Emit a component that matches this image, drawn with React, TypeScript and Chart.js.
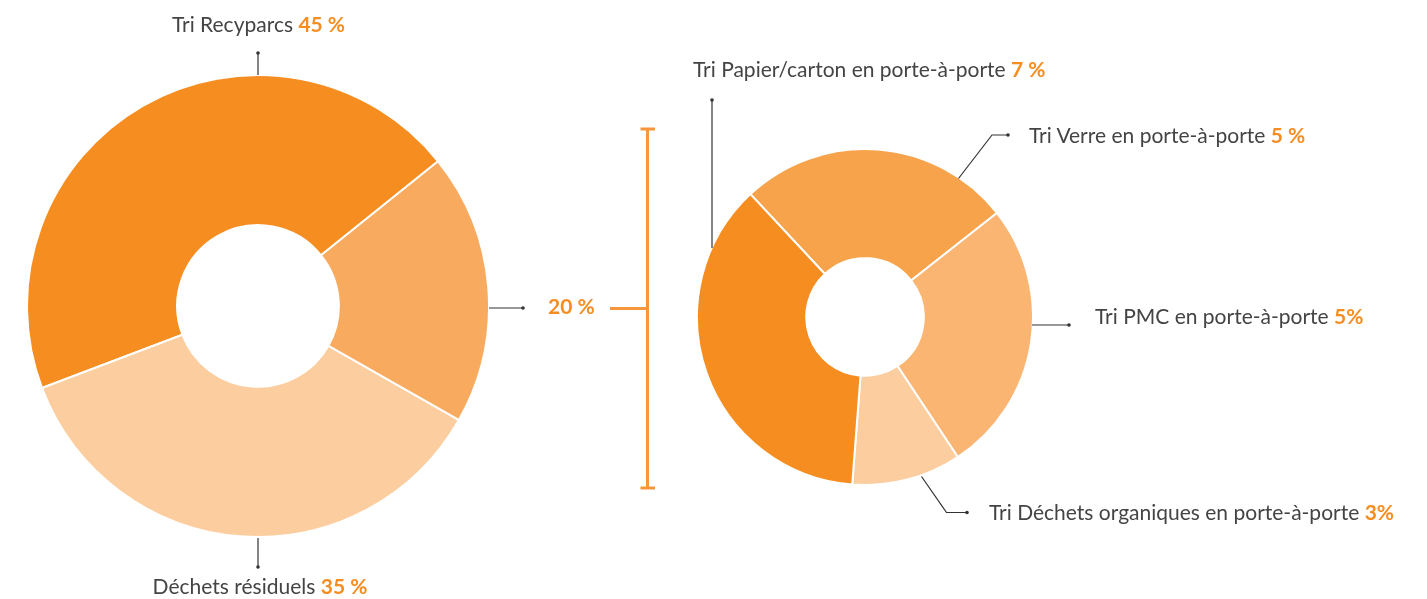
import React, { useEffect, useRef } from "react";
import { Chart, registerables } from "chart.js";

Chart.register(...registerables);

// Left doughnut (share of household waste)
const leftCategories = ["Tri Recyparcs", "Tri en porte-à-porte", "Déchets résiduels"];
const leftValues = [45, 19, 36];
const leftColors = ["#F68D21", "#F8AA5F", "#FCCD9E"];

// Right doughnut (breakdown of door-to-door sorting)
const rightCategories = [
  "Tri Verre en porte-à-porte",
  "Tri PMC en porte-à-porte",
  "Tri Déchets organiques en porte-à-porte",
  "Tri Papier/carton en porte-à-porte",
];
const rightValues = [5, 5, 2, 7];
const rightColors = ["#F7A34B", "#FAB573", "#FCCD9E", "#F68D21"];

// Label texts
const labelRecyparcs = ["Tri Recyparcs ", "45 %"];
const labelResiduels = ["Déchets résiduels ", "35 %"];
const labelPorte = "20 %";
const labelPapier = ["Tri Papier/carton en porte-à-porte ", "7 %"];
const labelVerre = ["Tri Verre en porte-à-porte ", "5 %"];
const labelPMC = ["Tri PMC en porte-à-porte ", "5%"];
const labelOrga = ["Tri Déchets organiques en porte-à-porte ", "3%"];

const FONT = "Lato, 'Open Sans', sans-serif";
const FS = 21;
const TEXT = "#444444";
const ORANGE = "#F68D21";
const LINE = "#333333";

function Donut({ values, colors, labels, rotation, left, top, size }: any) {
  const ref = useRef<HTMLCanvasElement>(null);
  useEffect(() => {
    const chart = new Chart(ref.current!, {
      type: "doughnut",
      data: {
        labels,
        datasets: [
          {
            data: values,
            backgroundColor: colors,
            borderColor: "#ffffff",
            borderWidth: 2,
          },
        ],
      },
      options: {
        animation: false,
        responsive: false,
        maintainAspectRatio: false,
        rotation,
        cutout: "35%",
        layout: { padding: 0 },
        plugins: { legend: { display: false }, tooltip: { enabled: false } },
      },
    });
    return () => chart.destroy();
  }, []);
  return (
    <canvas
      ref={ref}
      width={size}
      height={size}
      style={{ position: "absolute", left, top, width: size, height: size }}
    />
  );
}

function Label({ x, y, parts, anchor = "start" }: any) {
  return (
    <text x={x} y={y} textAnchor={anchor} fontFamily={FONT} fontSize={FS} fill={TEXT}>
      {parts[0]}
      <tspan fill={ORANGE} fontWeight={700}>
        {parts[1]}
      </tspan>
    </text>
  );
}

function Dot({ x, y }: any) {
  return <circle cx={x} cy={y} r={1.8} fill={LINE} />;
}

export default function App() {
  return (
    <div style={{ position: "absolute", left: 0, top: 0, width: 1427, height: 599, background: "#fff" }}>
      <Donut
        values={leftValues}
        colors={leftColors}
        labels={leftCategories}
        rotation={-110.8}
        left={26}
        top={74}
        size={464}
      />
      <Donut
        values={rightValues}
        colors={rightColors}
        labels={rightCategories}
        rotation={-43}
        left={696}
        top={148}
        size={338}
      />
      <svg
        width={1427}
        height={599}
        style={{ position: "absolute", left: 0, top: 0, pointerEvents: "none" }}
      >
        <g stroke={LINE} strokeWidth={1.2} fill="none">
          <line x1={258} y1={53} x2={258} y2={75} />
          <line x1={258} y1={538} x2={258} y2={567} />
          <line x1={489} y1={308} x2={523} y2={308} />
          <line x1={712} y1={100} x2={712} y2={248} />
          <polyline points="1008,135 992,135 958.5,178.5" />
          <line x1={1032} y1={325} x2={1069} y2={325} />
          <polyline points="921.5,476.5 946.5,512.5 967,512.5" />
        </g>
        <Dot x={258} y={53} />
        <Dot x={258} y={567} />
        <Dot x={523} y={308} />
        <Dot x={712} y={100} />
        <Dot x={1008} y={135} />
        <Dot x={1069} y={325} />
        <Dot x={967} y={512.5} />

        <g stroke="#F7963A" strokeWidth={3} fill="none">
          <line x1={647.5} y1={128} x2={647.5} y2={489} />
          <line x1={640.5} y1={129} x2={655} y2={129} />
          <line x1={640.5} y1={488} x2={655} y2={488} />
          <line x1={610} y1={308.5} x2={647.5} y2={308.5} />
        </g>

        <Label x={258.5} y={31.5} parts={labelRecyparcs} anchor="middle" />
        <Label x={260} y={594} parts={labelResiduels} anchor="middle" />
        <text x={548} y={314} fontFamily={FONT} fontSize={FS} fontWeight={700} fill={ORANGE}>
          {labelPorte}
        </text>
        <Label x={693} y={76.5} parts={labelPapier} />
        <Label x={1029} y={142.5} parts={labelVerre} />
        <Label x={1095} y={324} parts={labelPMC} />
        <Label x={989} y={520} parts={labelOrga} />
      </svg>
    </div>
  );
}
